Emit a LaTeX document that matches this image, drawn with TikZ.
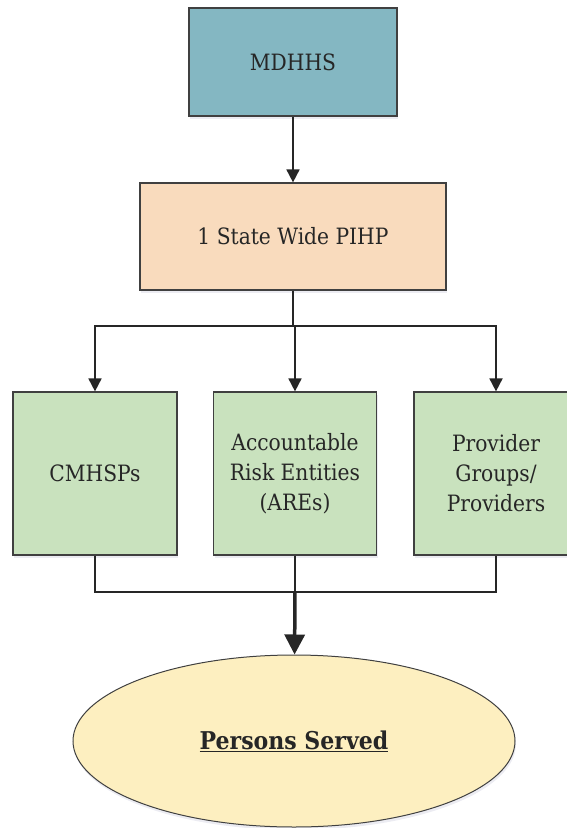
\documentclass[tikz,border=0pt]{standalone}
\usepackage{fontspec}
\setmainfont{DejaVu Serif Condensed}
\usetikzlibrary{shapes.geometric,shadows,arrows.meta}

\definecolor{mdhhsblue}{RGB}{132,183,194}
\definecolor{pihporange}{RGB}{249,219,189}
\definecolor{provgreen}{RGB}{201,226,190}
\definecolor{servedyellow}{RGB}{253,239,192}
\definecolor{edgegray}{RGB}{64,64,64}

\begin{document}
\begin{tikzpicture}[x=1pt,y=-1pt,
    box/.style={draw=edgegray,line width=1.2pt,align=center,inner sep=0pt,
      font=\fontsize{22.5}{30}\selectfont,text=black!85,
      drop shadow={shadow xshift=1pt,shadow yshift=-3pt,opacity=.25,fill=blue!20!gray!50}},
    link/.style={draw=black!85,line width=1.8pt,-{Triangle[width=13pt,length=13pt]}},
    line/.style={draw=black!85,line width=1.8pt}]
  \useasboundingbox (0,0) rectangle (567,828);

  \node[box,fill=mdhhsblue,minimum width=208pt,minimum height=108pt] (mdhhs) at (293,62) {MDHHS};
  \node[box,fill=pihporange,minimum width=306pt,minimum height=107pt] (pihp) at (293,236.5) {1 State Wide PIHP};

  \node[box,fill=provgreen,minimum width=164pt,minimum height=163pt] (cmh) at (95,473.5) {CMHSPs};
  \node[box,fill=provgreen,minimum width=163pt,minimum height=163pt] (are) at (295,473.5) {Accountable\\Risk Entities\\(AREs)};
  \node[box,fill=provgreen,minimum width=164pt,minimum height=163pt] (prov) at (496,473.5) {Provider\\Groups/\\Providers};

  \node[box,ellipse,fill=servedyellow,line width=1pt,minimum width=442pt,minimum height=172pt,
    font=\fontsize{24.5}{28}\selectfont\bfseries] (served) at (294,741) {\underline{Persons Served}};

  \coordinate (split) at (293,326);
  \coordinate (join) at (295,592);

  % top part
  \draw[link] (mdhhs) -- (pihp);
  \draw[line] (pihp) -- (split);
  \draw[link] (split) -| (cmh);
  \draw[link] (split) -| (are);
  \draw[link] (split) -| (prov);

  % bottom part
  \draw[line] (cmh) |- (join);
  \draw[line] (prov) |- (join);
  \draw[line] (are) -- (join);
  \draw[link,line width=3.5pt,-{Triangle[width=20pt,length=20pt]}] (join) -- (served);
\end{tikzpicture}
\end{document}
